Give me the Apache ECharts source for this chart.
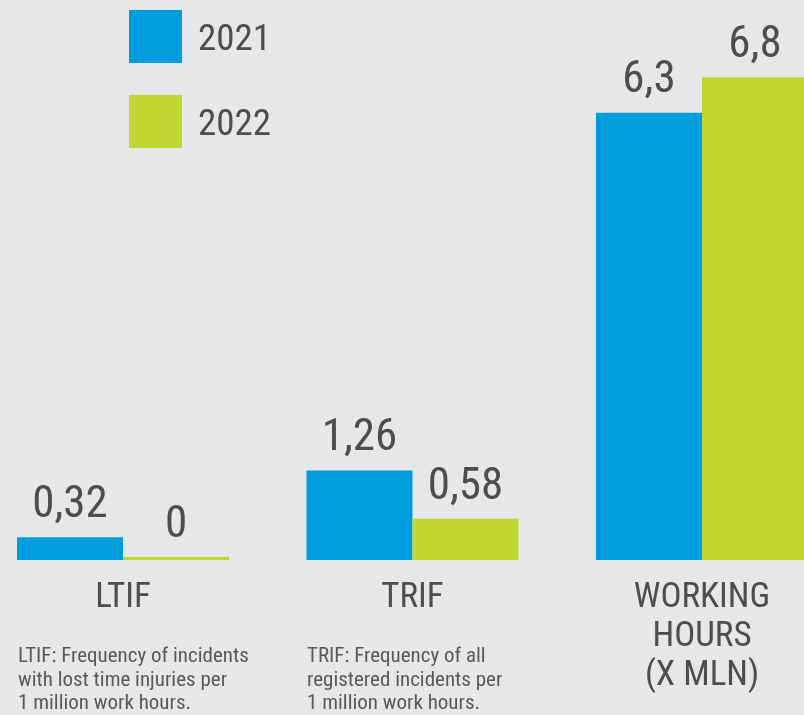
<!DOCTYPE html>
<html>
<head>
<meta charset="utf-8">
<script src="https://cdn.jsdelivr.net/npm/echarts@6/dist/echarts.min.js"></script>
<style>
html,body{margin:0;padding:0;background:#e6e7e9;}
#chart{width:804px;height:715px;}
</style>
</head>
<body>
<div id="chart"></div>
<script>
var categories = ['LTIF', 'TRIF', 'WORKING\nHOURS\n(X MLN)'];
var seriesNames = ['2021', '2022'];
var values2021 = [0.32, 1.26, 6.3];
var values2022 = [0, 0.58, 6.8];
var notes = [
  'LTIF: Frequency of incidents\nwith lost time injuries per\n1 million work hours.',
  'TRIF: Frequency of all\nregistered incidents per\n1 million work hours.'
];

var FONT = "'Roboto Condensed','Liberation Sans Narrow',Roboto,sans-serif";
var TEXT = '#4d4d4f';

function fmt(p){ return String(p.value).replace('.', ','); }

var chart = echarts.init(document.getElementById('chart'));
chart.setOption({
  backgroundColor: '#e6e7e9',
  animation: false,
  legend: {
    orient: 'vertical',
    left: 124, top: 5,
    itemWidth: 53, itemHeight: 53, itemGap: 32,
    icon: 'rect',
    data: seriesNames,
    formatter: function(name){ return '{t|' + name + '}'; },
    textStyle: {
      fontFamily: FONT, fontSize: 37, color: TEXT,
      rich: { t: { fontFamily: FONT, fontSize: 37, color: TEXT, padding: [8, 0, 0, 11] } }
    }
  },
  grid: { left: 123, right: 102, top: 63, bottom: 155, containLabel: false },
  xAxis: {
    type: 'category',
    data: categories,
    boundaryGap: false,
    axisLine: { show: false },
    axisTick: { show: false },
    axisLabel: { margin: 19, fontFamily: FONT, fontSize: 35, lineHeight: 39, color: TEXT, interval: 0 }
  },
  yAxis: { type: 'value', min: 0, max: 7, show: false, splitLine: { show: false } },
  series: [
    {
      name: seriesNames[0], type: 'bar', data: values2021,
      barWidth: 106, barGap: '0%', barMinHeight: 3,
      itemStyle: { color: '#009cdd' },
      label: { show: true, position: 'top', distance: 9, formatter: fmt, fontFamily: FONT, fontSize: 45, color: TEXT }
    },
    {
      name: seriesNames[1], type: 'bar', data: values2022,
      barWidth: 106, barGap: '0%', barMinHeight: 3,
      itemStyle: { color: '#bfd730' },
      label: { show: true, position: 'top', distance: 9, formatter: fmt, fontFamily: FONT, fontSize: 45, color: TEXT }
    }
  ],
  graphic: [
    { type: 'text', left: 18, top: 645, style: { text: notes[0], font: "21px " + FONT, fill: '#58595b', lineHeight: 23.5 } },
    { type: 'text', left: 307, top: 645, style: { text: notes[1], font: "21px " + FONT, fill: '#58595b', lineHeight: 23.5 } }
  ]
});
</script>
</body>
</html>
